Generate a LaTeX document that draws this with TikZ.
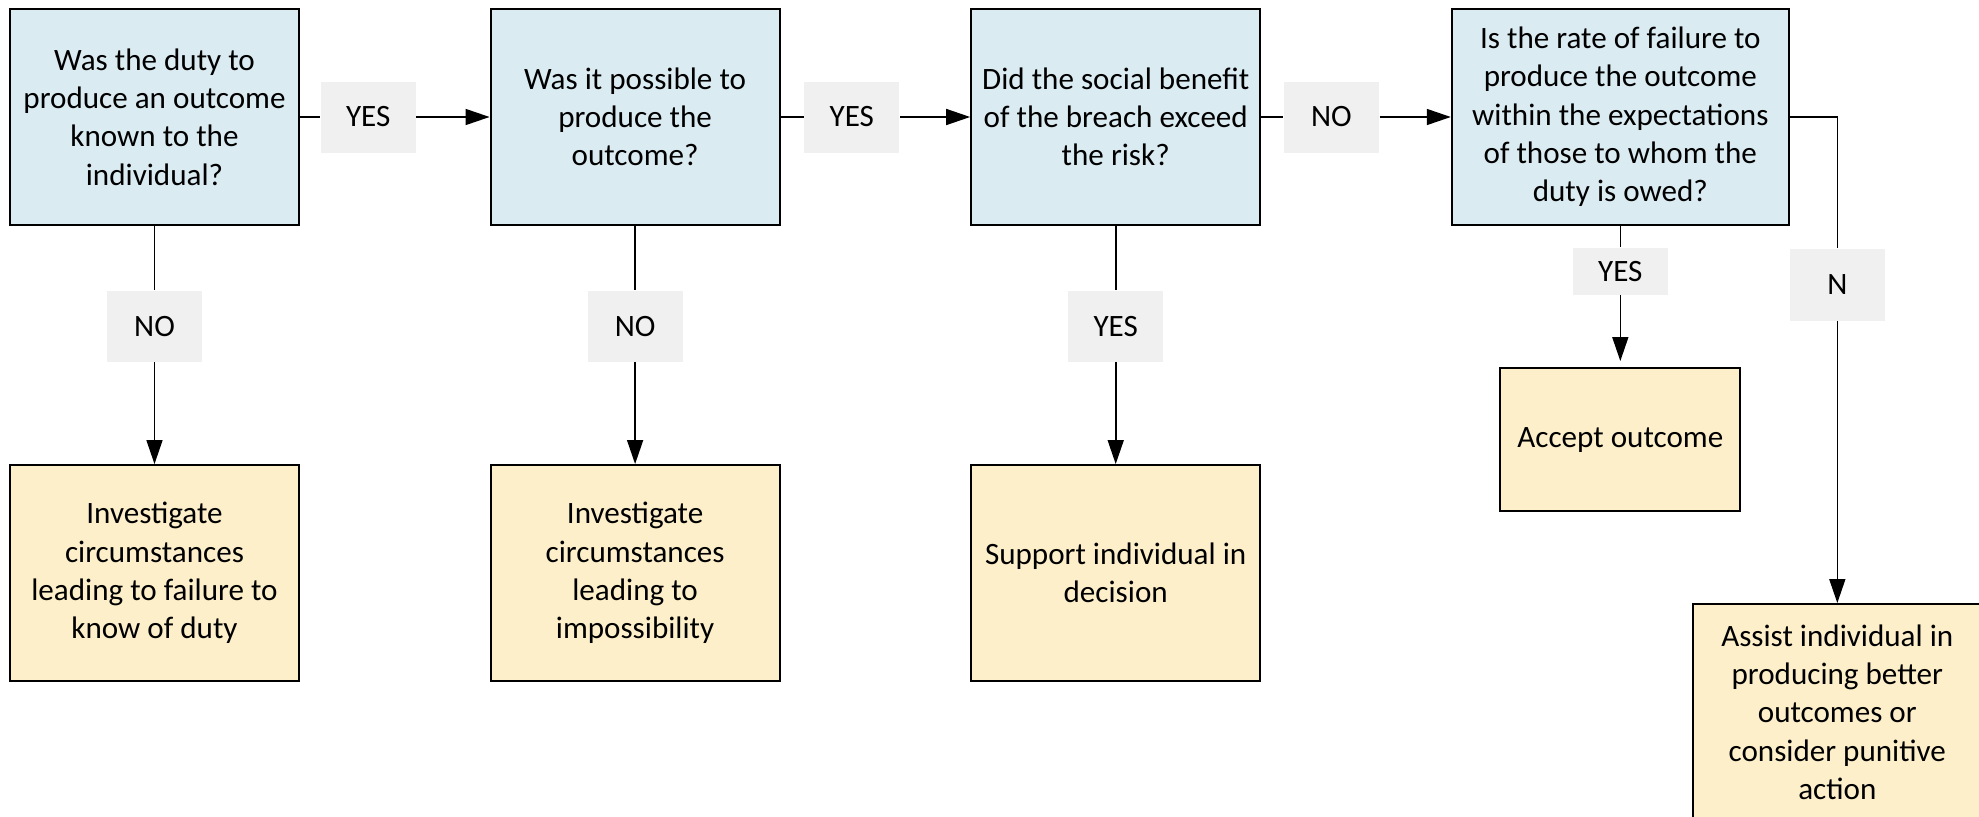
\documentclass[tikz,border=0pt]{standalone}
\usepackage{fontspec}
\setmainfont{Carlito}
\usepackage{xcolor}
\usetikzlibrary{arrows.meta,positioning}
\definecolor{qblue}{HTML}{DAEBF2}
\definecolor{ayellow}{HTML}{FDEFCA}
\definecolor{taggrey}{HTML}{F0F0F0}

\begin{document}
\begin{tikzpicture}[
  node distance=18.95mm,
  every node/.style={font=\fontsize{8.85}{10.9}\selectfont},
  question/.style={rectangle, draw=black, line width=0.6pt, minimum width=28.9mm, minimum height=21.6mm, inner sep=0pt, align=center, fill=qblue},
  action/.style={rectangle, draw=black, line width=0.6pt, minimum width=28.9mm, minimum height=21.6mm, inner sep=0pt, align=center, fill=ayellow},
  tag/.style={rectangle, fill=taggrey, minimum width=9.5mm, minimum height=7.1mm, inner sep=0pt},
  line/.style={-{Triangle[length=2.4mm,width=1.6mm]}, line width=0.45pt}
]
\useasboundingbox (0,0) rectangle (19.79,-8.17);
\node[question] (known) at (1.545,-1.17) {Was the duty to\\produce an outcome\\known to the\\individual?};
\node[question, right=of known] (possible) {Was it possible to\\produce the\\outcome?};
\node[question, right=of possible] (benefit) {Did the social benefit\\of the breach exceed\\the risk?};
\node[question, right=of benefit, minimum width=33.7mm] (rate) {Is the rate of failure to\\produce the outcome\\within the expectations\\of those to whom the\\duty is owed?};

\node[action, below=23.8mm of known] (failure) {Investigate\\circumstances\\leading to failure to\\know of duty};
\node[action, below=23.8mm of possible] (impossible) {Investigate\\circumstances\\leading to\\impossibility};
\node[action, below=23.8mm of benefit] (support) {Support individual in\\decision};
\node[action, below=14.1mm of rate, minimum width=24mm, minimum height=14.3mm] (accept) {Accept outcome};
\node[action, below=37.7mm of rate, xshift=21.7mm] (assist) {Assist individual in\\producing better\\outcomes or\\consider punitive\\action};

\node[tag, right=2mm of known] (yes1) {YES};
\node[tag, right=2.3mm of possible] (yes2) {YES};
\node[tag, right=2.2mm of benefit] (no3) {NO};
\node[tag, below=6.4mm of known] (no1) {NO};
\node[tag, below=6.4mm of possible] (no2) {NO};
\node[tag, below=6.4mm of benefit] (yes3) {YES};
\node[tag, below=2.1mm of rate, minimum height=4.7mm] (yes4) {YES};
\node[tag, below=2.2mm of rate, xshift=21.7mm, minimum height=7.2mm] (no4) {N};

\draw[line] (known) -- (yes1) -- (possible);
\draw[line] (possible) -- (yes2) -- (benefit);
\draw[line] (benefit) -- (no3) -- (rate);
\draw[line] (known) -- (no1) -- (failure);
\draw[line] (possible) -- (no2) -- (impossible);
\draw[line] (benefit) -- (yes3) -- (support);
\draw[line, shorten >=0.6mm] (rate) -- (yes4) -- (accept);
\draw[line] (rate.east) -| (no4) -- (assist);
\end{tikzpicture}
\end{document}
